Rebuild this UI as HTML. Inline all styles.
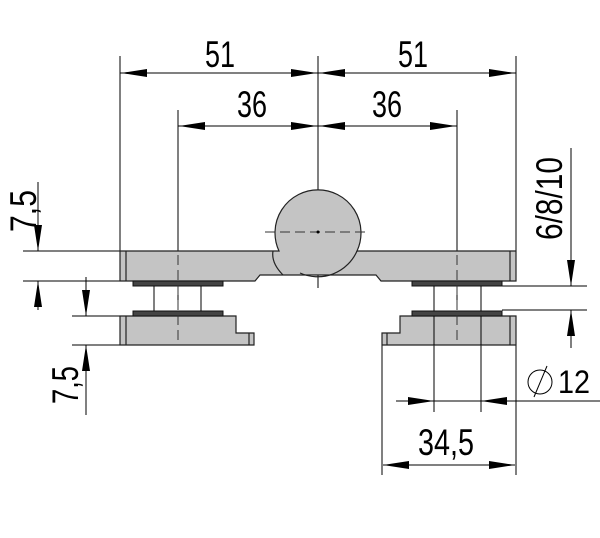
<!DOCTYPE html>
<html><head><meta charset="utf-8"><style>html,body{margin:0;padding:0;background:#fff}svg{display:block}</style></head>
<body>
<svg width="600" height="538" viewBox="0 0 600 538" xmlns="http://www.w3.org/2000/svg" font-family="Liberation Sans, sans-serif">
<defs>
<marker id="a" markerWidth="26" markerHeight="8" refX="26" refY="4" orient="auto" markerUnits="userSpaceOnUse"><path d="M0,0 L26,4 L0,8 Z" fill="#000"/></marker>
</defs>
<g stroke="#000" stroke-width="1" fill="none">
<line x1="120" y1="56" x2="120" y2="251"/>
<line x1="516" y1="56" x2="516" y2="251"/>
<line x1="318" y1="56" x2="318" y2="288"/>
<line x1="178" y1="110" x2="178" y2="300"/>
<line x1="457" y1="110" x2="457" y2="300"/>
<line x1="318" y1="73" x2="121" y2="73" marker-end="url(#a)"/>
<line x1="120" y1="73" x2="317" y2="73" marker-end="url(#a)"/>
<line x1="516" y1="73" x2="319" y2="73" marker-end="url(#a)"/>
<line x1="318" y1="73" x2="515" y2="73" marker-end="url(#a)"/>
<line x1="318" y1="126" x2="179" y2="126" marker-end="url(#a)"/>
<line x1="178" y1="126" x2="317" y2="126" marker-end="url(#a)"/>
<line x1="457" y1="126" x2="319" y2="126" marker-end="url(#a)"/>
<line x1="318" y1="126" x2="456" y2="126" marker-end="url(#a)"/>
<line x1="23" y1="251" x2="120" y2="251"/>
<line x1="23" y1="281" x2="120" y2="281"/>
<line x1="38" y1="182" x2="38" y2="251" marker-end="url(#a)"/>
<line x1="38" y1="310" x2="38" y2="281" marker-end="url(#a)"/>
<line x1="72" y1="316" x2="120" y2="316"/>
<line x1="72" y1="345" x2="120" y2="345"/>
<line x1="86" y1="277" x2="86" y2="316" marker-end="url(#a)"/>
<line x1="86" y1="415" x2="86" y2="345" marker-end="url(#a)"/>
<line x1="502" y1="286" x2="587" y2="286"/>
<line x1="502" y1="310" x2="587" y2="310"/>
<line x1="571" y1="148" x2="571" y2="286" marker-end="url(#a)"/>
<line x1="571" y1="348" x2="571" y2="310" marker-end="url(#a)"/>
<line x1="434" y1="316" x2="434" y2="412"/>
<line x1="481" y1="316" x2="481" y2="412"/>
<line x1="382" y1="345" x2="382" y2="475"/>
<line x1="516" y1="345" x2="516" y2="475"/>
<line x1="396" y1="401" x2="434" y2="401" marker-end="url(#a)"/>
<line x1="600" y1="401" x2="481" y2="401" marker-end="url(#a)"/>
<line x1="434" y1="401" x2="481" y2="401"/>
<line x1="450" y1="465" x2="383" y2="465" marker-end="url(#a)"/>
<line x1="450" y1="465" x2="515" y2="465" marker-end="url(#a)"/>
</g>
<g stroke="#222" stroke-width="1.2" fill="#c4c4c4">
<path d="M120,251 H279 A43,43 0 1 1 357,251 H516 V281 H381 L376,275 H260 L255,281 H120 Z"/>
<path d="M273,251 Q271,263 283,275" fill="none"/>
<path d="M357,251 A43,43 0 0 1 300,273" fill="none"/>
<path d="M120,316 H236 V333 H254 V345 H120 Z"/>
<path d="M516,316 H400 V333 H382 V345 H516 Z"/>
<line x1="126" y1="251" x2="126" y2="281"/>
<line x1="126" y1="316" x2="126" y2="345"/>
<line x1="510" y1="251" x2="510" y2="281"/>
<line x1="510" y1="316" x2="510" y2="345"/>
<line x1="249" y1="333" x2="249" y2="345"/>
<line x1="387" y1="333" x2="387" y2="345"/>
</g>
<g fill="#444" stroke="#111" stroke-width="1">
<rect x="133" y="281" width="90" height="5"/>
<rect x="133" y="311" width="90" height="5"/>
<rect x="412" y="281" width="90" height="5"/>
<rect x="412" y="311" width="90" height="5"/>
</g>
<g stroke="#000" stroke-width="1">
<line x1="154" y1="286" x2="154" y2="311"/>
<line x1="201" y1="286" x2="201" y2="311"/>
<line x1="434" y1="286" x2="434" y2="311"/>
<line x1="481" y1="286" x2="481" y2="311"/>
<line x1="434" y1="316" x2="434" y2="345"/>
<line x1="481" y1="316" x2="481" y2="345"/>
</g>
<g stroke="#333" stroke-width="1" stroke-dasharray="10,5">
<line x1="265" y1="232" x2="370" y2="232"/>
<line x1="178" y1="255" x2="178" y2="345"/>
<line x1="457" y1="255" x2="457" y2="345"/>
</g>
<circle cx="318" cy="232" r="1.5" fill="#000"/>
<g font-size="37" fill="#000">
<text x="205" y="67" textLength="30" lengthAdjust="spacingAndGlyphs">51</text>
<text x="398" y="67" textLength="30" lengthAdjust="spacingAndGlyphs">51</text>
<text x="237" y="117" textLength="30" lengthAdjust="spacingAndGlyphs">36</text>
<text x="372" y="117" textLength="30" lengthAdjust="spacingAndGlyphs">36</text>
<text x="418" y="455" textLength="56" lengthAdjust="spacingAndGlyphs">34,5</text>
<text x="558" y="393" font-size="32" textLength="32" lengthAdjust="spacingAndGlyphs">12</text>
<text transform="translate(36,232) rotate(-90)" textLength="42" lengthAdjust="spacingAndGlyphs">7,5</text>
<text transform="translate(78,404) rotate(-90)" textLength="38" lengthAdjust="spacingAndGlyphs">7,5</text>
<text transform="translate(562,240) rotate(-90)" textLength="83" lengthAdjust="spacingAndGlyphs">6/8/10</text>
</g>
<g stroke="#000" stroke-width="1" fill="none">
<circle cx="540" cy="382" r="12"/>
<line x1="534" y1="397" x2="547" y2="366"/>
</g>
</svg>
</body></html>
